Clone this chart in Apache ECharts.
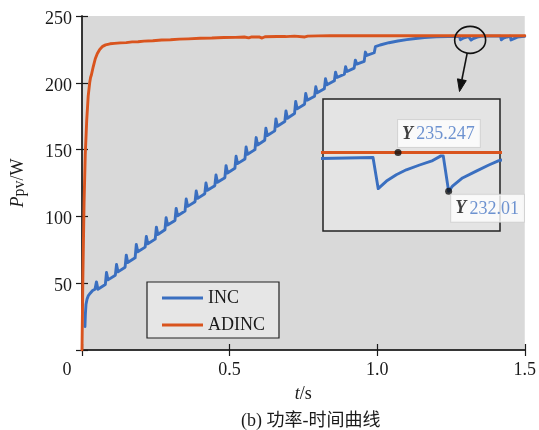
<!DOCTYPE html>
<html>
<head>
<meta charset="utf-8">
<title>功率-时间曲线</title>
<script src="https://cdn.jsdelivr.net/npm/echarts@6.0.0/dist/echarts.min.js"></script>
<style>
  html, body { margin: 0; padding: 0; background: #ffffff; }
  #chart { width: 539px; height: 430px; }
</style>
</head>
<body>
<div id="chart"></div>
<script>
// ---- data -------------------------------------------------------------
const seriesNames = ['INC', 'ADINC'];
const xTicks = [0, 0.5, 1.0, 1.5];
const yTicks = [0, 50, 100, 150, 200, 250];

// INC: time (s), PV power (W)
const incPoints = [
  [0.010, 17.5], [0.0115, 27], [0.0135, 34], [0.017, 38], [0.021, 40.5],
  [0.028, 42.5], [0.036, 44.5], [0.044, 45.5],
  [0.049, 51], [0.054, 45.5], [0.079, 49],
  [0.083, 58], [0.088, 52.5], [0.113, 56],
  [0.117, 64], [0.122, 58.5], [0.146, 62],
  [0.150, 71], [0.155, 65.5], [0.180, 69],
  [0.184, 79], [0.189, 73.5], [0.214, 77],
  [0.218, 85], [0.223, 79.5], [0.248, 83],
  [0.252, 92], [0.257, 86.5], [0.281, 90],
  [0.285, 99], [0.290, 93.5], [0.315, 97],
  [0.319, 106], [0.324, 100.5], [0.349, 104],
  [0.353, 113], [0.358, 107.5], [0.383, 111],
  [0.387, 119], [0.392, 113.5], [0.416, 117],
  [0.420, 125], [0.425, 119.5], [0.450, 123],
  [0.454, 131], [0.459, 125.5], [0.484, 129],
  [0.488, 138], [0.493, 132.5], [0.518, 136],
  [0.522, 145], [0.527, 139.5], [0.552, 143],
  [0.556, 152], [0.561, 146.5], [0.586, 150],
  [0.590, 159], [0.595, 153.5], [0.619, 157],
  [0.623, 166], [0.628, 160.5], [0.653, 164],
  [0.657, 173], [0.662, 167.5], [0.687, 171],
  [0.691, 179], [0.696, 173.5], [0.720, 177],
  [0.724, 186], [0.729, 180.5], [0.754, 184],
  [0.758, 192], [0.763, 187], [0.788, 190],
  [0.792, 197], [0.797, 192.5], [0.821, 195.5],
  [0.825, 203], [0.830, 198.5], [0.855, 201.5],
  [0.859, 208], [0.864, 204], [0.889, 206.5],
  [0.893, 212], [0.898, 208.5], [0.922, 211],
  [0.926, 217], [0.931, 214], [0.956, 216],
  [0.960, 223], [0.965, 220.5], [0.990, 222.5],
  [0.994, 227], [1.010, 228.3], [1.040, 230], [1.070, 231.3],
  [1.100, 232.3], [1.130, 233.2], [1.160, 233.9], [1.200, 234.4],
  [1.240, 234.7], [1.279, 234.82],
  [1.2817, 232.23], [1.286, 232.86], [1.2911, 233.39], [1.2963, 233.8],
  [1.3032, 234.2], [1.310, 234.57], [1.3143, 234.96], [1.3155, 234.96],
  [1.3183, 232.01], [1.3203, 232.43], [1.3255, 233.12], [1.3324, 233.67],
  [1.3392, 234.2], [1.3444, 234.57], [1.352, 234.8], [1.365, 234.9],
  [1.418, 234.9], [1.4205, 232.2], [1.428, 233.4], [1.440, 234.3],
  [1.451, 234.9], [1.4535, 232.1], [1.460, 233.0], [1.475, 234.2],
  [1.490, 234.6], [1.500, 234.8]
];

// ADINC: time (s), PV power (W)
const adincPoints = [
  [0, 0], [0.003, 55], [0.007, 110], [0.011, 146], [0.016, 172], [0.021, 190],
  [0.026, 200], [0.029, 204], [0.032, 206], [0.038, 212], [0.045, 218],
  [0.052, 222], [0.060, 225], [0.070, 227.3], [0.080, 228.4], [0.095, 229.2],
  [0.110, 229.5], [0.130, 229.9], [0.150, 230.1], [0.170, 230.6], [0.190, 230.7],
  [0.210, 231.2], [0.240, 231.5], [0.270, 232.0], [0.300, 232.2], [0.330, 232.7],
  [0.360, 232.9], [0.400, 233.3], [0.440, 233.5], [0.480, 233.9], [0.520, 234.0],
  [0.550, 234.3], [0.565, 233.6], [0.575, 234.3], [0.600, 234.4], [0.610, 233.5],
  [0.620, 234.5], [0.660, 234.7], [0.690, 234.6], [0.720, 234.9], [0.755, 234.3],
  [0.765, 234.9], [0.800, 235.1], [0.840, 235.2], [0.870, 235.247], [1.500, 235.247]
];

// zoomed window and the two read-outs shown in it
const insetTime = [1.253, 1.345];
const insetPower = [228.7, 239.7];
const dataTips = [[1.292, 235.247], [1.3183, 232.01]];

// ---- styling ----------------------------------------------------------
const SERIF = "'Liberation Serif', 'Times New Roman', serif";
const TITLE_FONT = "'Liberation Serif', 'Noto Sans CJK SC', serif";
const BLUE = '#3a6fc0';
const ORANGE = '#d9541e';
const INK = '#1a1a1a';

const MAIN = { left: 82, top: 16, right: 12, bottom: 80 };
const INSET = { left: 323, top: 99, width: 177, height: 132 };

const chart = echarts.init(document.getElementById('chart'), null, { renderer: 'canvas' });

const axisLine = { show: true, lineStyle: { color: '#2a2a2a', width: 1.5 } };
const axisTick = { show: true, inside: true, length: 6, lineStyle: { color: INK, width: 1.2 } };

function lineSeries(name, data, color, xi, yi, z) {
  return {
    name, type: 'line', data, xAxisIndex: xi, yAxisIndex: yi, z,
    showSymbol: false, symbol: 'none', smooth: false, clip: true,
    color, lineStyle: { color, width: 2.9, join: 'round', cap: 'round' },
    emphasis: { disabled: true }
  };
}

chart.setOption({
  animation: false,
  backgroundColor: '#ffffff',
  title: {
    text: '(b) 功率-时间曲线',
    left: 236, top: 407,
    textStyle: { fontFamily: TITLE_FONT, fontSize: 18, fontWeight: 'normal', color: INK }
  },
  legend: {
    data: seriesNames,
    orient: 'vertical',
    left: 147, top: 282,
    padding: [7, 14, 4, 15],
    itemGap: 9,
    itemWidth: 41, itemHeight: 3,
    icon: 'rect',
    backgroundColor: '#e6e6e6',
    borderColor: '#222', borderWidth: 1.2, borderRadius: 0,
    textStyle: { fontFamily: SERIF, fontSize: 18, color: INK },
    selectedMode: false
  },
  grid: [
    Object.assign({ show: true, backgroundColor: '#d9d9d9', borderWidth: 0 }, MAIN),
    Object.assign({ show: true, backgroundColor: '#e4e4e4', borderColor: '#222', borderWidth: 1.5, z: 10 }, INSET)
  ],
  xAxis: [
    {
      gridIndex: 0, type: 'value', position: 'bottom',
      min: xTicks[0], max: xTicks[xTicks.length - 1], interval: 0.5,
      axisLine, axisTick, splitLine: { show: false },
      axisLabel: {
        fontFamily: SERIF, fontSize: 18, color: INK, margin: 11,
        formatter: v => v === 0 ? '{o|0}' : v.toFixed(1),
        rich: { o: { fontFamily: SERIF, fontSize: 18, color: INK, padding: [0, 30, 0, 0] } }
      },
      name: '{i|t}/s', nameLocation: 'middle', nameGap: 35,
      nameTextStyle: {
        fontFamily: SERIF, fontSize: 18, color: INK,
        rich: { i: { fontFamily: SERIF, fontSize: 18, fontStyle: 'italic', color: INK } }
      }
    },
    {
      gridIndex: 0, type: 'value', position: 'top',
      min: xTicks[0], max: xTicks[xTicks.length - 1], interval: 0.5,
      axisLine, axisTick, axisLabel: { show: false }, splitLine: { show: false }
    },
    {
      gridIndex: 1, type: 'value', min: insetTime[0], max: insetTime[1], show: false
    }
  ],
  yAxis: [
    {
      gridIndex: 0, type: 'value', position: 'left',
      min: yTicks[0], max: yTicks[yTicks.length - 1], interval: 50,
      axisLine, axisTick, splitLine: { show: false },
      axisLabel: {
        fontFamily: SERIF, fontSize: 18, color: INK, margin: 10,
        formatter: v => v === 0 ? '' : '{n|' + v + '}',
        rich: { n: { fontFamily: SERIF, fontSize: 18, color: INK, padding: [6, 0, 0, 0] } }
      },
      name: '{i|P}{s|pv}/W', nameLocation: 'middle', nameGap: 54, nameRotate: 90,
      nameTextStyle: {
        fontFamily: SERIF, fontSize: 18, color: INK,
        rich: {
          i: { fontFamily: SERIF, fontSize: 18, fontStyle: 'italic', color: INK },
          s: { fontFamily: SERIF, fontSize: 16, color: INK, padding: [3, 0, 0, 0] }
        }
      }
    },
    {
      gridIndex: 0, type: 'value', position: 'right',
      min: yTicks[0], max: yTicks[yTicks.length - 1], interval: 50,
      axisLine, axisTick, axisLabel: { show: false }, splitLine: { show: false }
    },
    {
      gridIndex: 1, type: 'value', min: insetPower[0], max: insetPower[1], show: false
    }
  ],
  series: [
    lineSeries('INC', incPoints, BLUE, 0, 0, 3),
    lineSeries('ADINC', adincPoints, ORANGE, 0, 0, 4),
    lineSeries('INC', incPoints, BLUE, 2, 2, 12),
    lineSeries('ADINC', adincPoints, ORANGE, 2, 2, 13),
    {
      type: 'scatter', xAxisIndex: 2, yAxisIndex: 2, z: 14,
      data: [
        { value: dataTips[0], label: { position: [3.5, -2], align: 'left', verticalAlign: 'bottom' } },
        { value: dataTips[1], label: { position: [6, 7], align: 'left', verticalAlign: 'top' } }
      ],
      symbolSize: 7,
      itemStyle: { color: '#111' },
      emphasis: { disabled: true },
      label: {
        show: true,
        formatter: p => '{y|Y} {v|' + p.value[1] + '}',
        backgroundColor: '#ffffff', borderColor: '#cfcfcf', borderWidth: 1,
        padding: [5, 5, 4, 4],
        rich: {
          y: { fontFamily: SERIF, fontSize: 18, fontWeight: 'bold', fontStyle: 'italic', color: '#111' },
          v: { fontFamily: SERIF, fontSize: 18, color: '#4a78c6' }
        }
      }
    }
  ]
});

// callout: ring around the steady-state dips and an arrow down to the zoomed window
const c = chart.convertToPixel({ xAxisIndex: 0, yAxisIndex: 0 }, [1.315, 232.1]);
const rx = 15.5, ry = 13.5;
const start = [c[0] - 3, c[1] + ry];
const tip = [INSET.left + 136.5, INSET.top - 7.5];
const dx = tip[0] - start[0], dy = tip[1] - start[1];
const len = Math.hypot(dx, dy), ux = dx / len, uy = dy / len;
const headL = 12, headW = 4.5;
const base = [tip[0] - ux * headL, tip[1] - uy * headL];
chart.setOption({
  graphic: [
    { type: 'ellipse', z: 50, shape: { cx: c[0], cy: c[1], rx, ry },
      style: { fill: 'none', stroke: '#111', lineWidth: 1.6 } },
    { type: 'line', z: 50, shape: { x1: start[0], y1: start[1], x2: base[0], y2: base[1] },
      style: { stroke: '#111', lineWidth: 1.6 } },
    { type: 'polygon', z: 50, shape: { points: [
        tip,
        [base[0] - uy * headW, base[1] + ux * headW],
        [base[0] + uy * headW, base[1] - ux * headW]
      ] }, style: { fill: '#111', stroke: '#111', lineWidth: 1 } }
  ]
});
</script>
</body>
</html>
